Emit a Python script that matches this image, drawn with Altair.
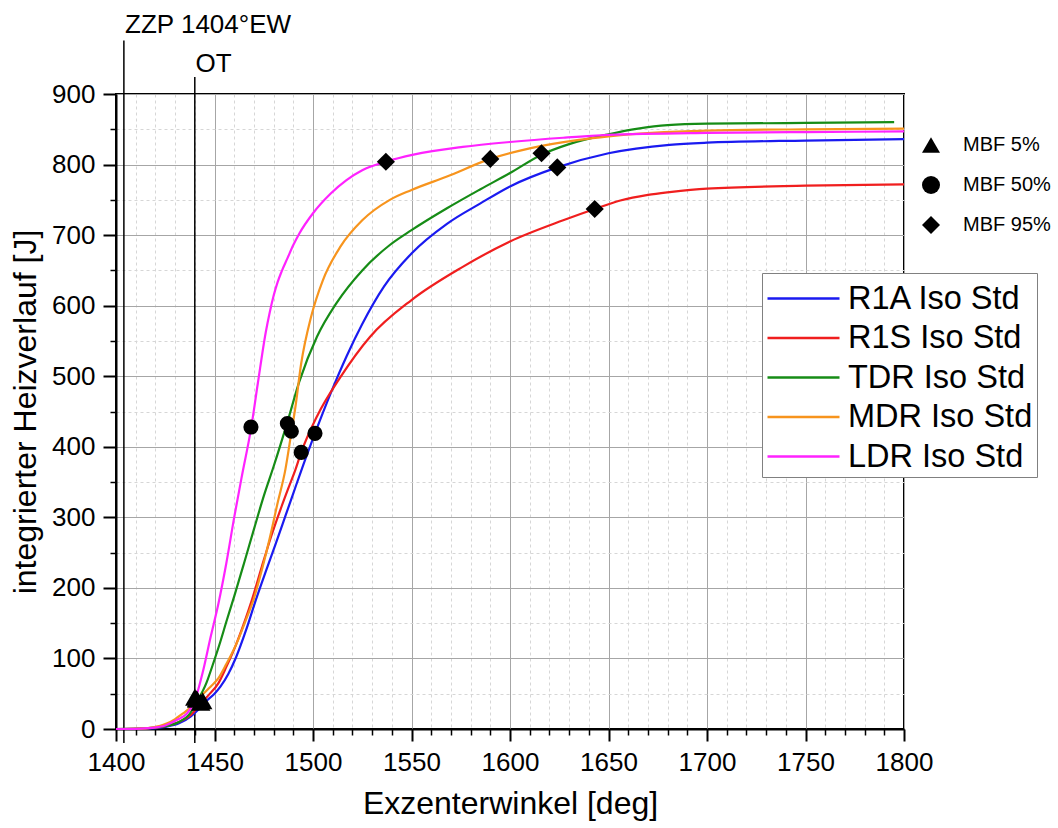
import altair as alt
import pandas as pd

FONT = "Liberation Sans"

# ---- series ----
series_names = ["R1A Iso Std", "R1S Iso Std", "TDR Iso Std", "MDR Iso Std", "LDR Iso Std"]
series_colors = ["#1a1af0", "#f01e1e", "#168c16", "#f7941d", "#ff22ff"]

r1a_deg = [1400, 1415, 1425, 1432, 1438, 1442, 1446, 1450, 1453, 1457, 1461, 1466, 1471, 1476, 1481, 1486, 1490,
           1494, 1501, 1509, 1517, 1525, 1536, 1550, 1568, 1585, 1600, 1624, 1650, 1681, 1700, 1750, 1800]
r1a_j = [0, 0.5, 3, 8, 18, 28, 40, 50, 60, 78, 102, 140, 183, 223, 262, 302, 334,
         366, 419, 476, 528, 574, 627, 674, 716, 745, 769, 796, 816, 828, 831, 834, 836]

r1s_deg = [1400, 1415, 1425, 1432, 1438, 1443, 1447, 1452, 1456, 1461, 1465, 1469, 1474, 1479, 1484, 1488,
           1491, 1494, 1502, 1514, 1529, 1550, 1576, 1600, 1627, 1643, 1656, 1670, 1681, 1700, 1750, 1800]
r1s_j = [0, 0.7, 4, 10, 20, 36, 48, 65, 88, 120, 150, 183, 230, 275, 315, 345,
         367, 392, 443, 499, 556, 608, 655, 691, 721, 737, 749, 757, 761, 766, 770, 772]

tdr_deg = [1400, 1415, 1425, 1432, 1437, 1441, 1446, 1449, 1453, 1456, 1460, 1465, 1470, 1475, 1480, 1487,
           1493, 1502, 1512, 1525, 1539, 1550, 1568, 1585, 1600, 1616, 1630, 1650, 1665, 1680, 1700, 1750, 1795]
tdr_j = [0, 1, 4, 10, 20, 38, 66, 90, 124, 152, 188, 235, 283, 330, 372, 435,
         492, 556, 604, 650, 686, 707, 738, 765, 788, 814, 829, 843, 851, 856, 858, 859, 860]

mdr_deg = [1400, 1412, 1418, 1422, 1426, 1430, 1434, 1438, 1441, 1444, 1448, 1452, 1456, 1461, 1466, 1470,
           1474, 1478, 1482, 1486, 1489, 1491, 1494, 1499, 1505, 1514, 1525, 1539, 1550, 1568, 1590, 1610,
           1635, 1650, 1700, 1750, 1800]
mdr_j = [0, 0.5, 2, 4, 8, 14, 22, 31, 40, 49, 60, 72, 92, 120, 155, 185,
         225, 270, 320, 368, 420, 455, 518, 584, 636, 684, 721, 750, 764, 783, 808, 823,
         835, 840, 848, 850, 851]

ldr_deg = [1400, 1410, 1418, 1425, 1431, 1436, 1440, 1444, 1448, 1452, 1456, 1460, 1464, 1468.5, 1472, 1476,
           1478, 1480, 1482, 1484, 1487, 1490, 1493, 1500, 1509, 1517, 1525, 1537, 1551, 1576, 1600, 1627,
           1650, 1700, 1750, 1800]
ldr_j = [0, 0.3, 1.5, 5, 13, 22, 40, 80, 130, 178, 235, 300, 360, 425, 490, 562,
         590, 614, 633, 648, 667, 686, 702, 731, 759, 778, 792, 804, 814, 825, 832, 838,
         842, 845, 846, 847]

# ---- MBF markers ----
mbf_labels = ["MBF 5%", "MBF 50%", "MBF 95%"]
mbf_shapes = ["triangle-up", "circle", "diamond"]
mbf_sizes = {"MBF 5%": 380, "MBF 50%": 230, "MBF 95%": 330}

mk_series = ["R1A Iso Std", "R1S Iso Std", "TDR Iso Std", "MDR Iso Std", "LDR Iso Std"] * 3
mk_type = ["MBF 5%"] * 5 + ["MBF 50%"] * 5 + ["MBF 95%"] * 5
mk_deg = [1444, 1443, 1441, 1441, 1440,
          1501, 1494, 1487, 1489, 1468.5,
          1624, 1643, 1616, 1590, 1537]
mk_j = [40, 38, 43, 42, 45,
        419, 392, 433, 422, 428,
        796, 737, 816, 808, 804]

# ---- annotations ----
ann_text = ["ZZP 1404°EW", "OT"]
ann_deg = [1404, 1440]
ann_top = [976, 924]
ann_bottom = [-20, -20]
ann_label_deg = [1404.6, 1440.4]
ann_label_j = [986, 931]

# ---- axes ticks ----
x_ticks = list(range(1400, 1801, 10))
y_ticks = list(range(0, 901, 50))

rows = []
for name, d, j in [(series_names[0], r1a_deg, r1a_j), (series_names[1], r1s_deg, r1s_j),
                   (series_names[2], tdr_deg, tdr_j), (series_names[3], mdr_deg, mdr_j),
                   (series_names[4], ldr_deg, ldr_j)]:
    for a, b in zip(d, j):
        rows.append({"series": name, "deg": a, "J": b})
lines_df = pd.DataFrame(rows)
markers_df = pd.DataFrame({"series": mk_series, "mbf": mk_type, "deg": mk_deg, "J": mk_j,
                           "sz": [mbf_sizes[t] for t in mk_type]})
ann_df = pd.DataFrame({"text": ann_text, "deg": ann_deg, "top": ann_top, "bottom": ann_bottom,
                       "ldeg": ann_label_deg, "lj": ann_label_j})

xscale = alt.Scale(domain=[1400, 1800], nice=False, zero=False)
yscale = alt.Scale(domain=[0, 900], nice=False, zero=False)

major_x = "datum.value % 50 === 0"
major_y = "datum.value % 100 === 0"

x_axis = alt.Axis(
    values=x_ticks, format="d",
    labelExpr="datum.value % 50 === 0 ? datum.label : ''",
    title="Exzenterwinkel [deg]", titleFont=FONT, titleFontSize=32, titleFontWeight="normal",
    titleColor="black", titlePadding=13,
    labelFont=FONT, labelFontSize=26, labelColor="black", labelPadding=8, labelFlush=False,
    labelOverlap=False,
    domainColor="black", domainWidth=2,
    tickColor="black",
    tickWidth={"condition": {"test": major_x, "value": 2}, "value": 1.5},
    tickSize={"condition": {"test": major_x, "value": 12}, "value": 6},
    grid=True,
    gridColor={"condition": {"test": major_x, "value": "#a6a6a6"}, "value": "#d6d6d6"},
    gridDash={"condition": {"test": major_x, "value": []}, "value": [3, 3]},
    gridWidth=1,
)
y_axis = alt.Axis(
    values=y_ticks, format="d",
    labelExpr="datum.value % 100 === 0 ? datum.label : ''",
    title="integrierter Heizverlauf [J]", titleFont=FONT, titleFontSize=32, titleFontWeight="normal",
    titleColor="black", titlePadding=9,
    labelFont=FONT, labelFontSize=26, labelColor="black", labelPadding=8, labelFlush=False,
    labelOverlap=False,
    domainColor="black", domainWidth=2,
    tickColor="black",
    tickWidth={"condition": {"test": major_y, "value": 2}, "value": 1.5},
    tickSize={"condition": {"test": major_y, "value": 13}, "value": 6},
    grid=True,
    gridColor={"condition": {"test": major_y, "value": "#a6a6a6"}, "value": "#d6d6d6"},
    gridDash={"condition": {"test": major_y, "value": []}, "value": [3, 3]},
    gridWidth=1,
)

lines = alt.Chart(lines_df).mark_line(strokeWidth=2.2, interpolate="monotone").encode(
    x=alt.X("deg:Q", scale=xscale, axis=x_axis),
    y=alt.Y("J:Q", scale=yscale, axis=y_axis),
    color=alt.Color("series:N", scale=alt.Scale(domain=series_names, range=series_colors),
                    legend=alt.Legend(title=None, orient="none", legendX=646, legendY=179,
                                      symbolType="M-1.8,0H1.8", symbolSize=1600,
                                      symbolStrokeWidth=2.5, symbolOffset=16,
                                      labelFont=FONT, labelFontSize=32.5, labelColor="black",
                                      labelOffset=23, labelLimit=500,
                                      strokeColor="#808080", fillColor="white",
                                      padding=4, rowPadding=1.5)),
    detail="series:N",
)

points = alt.Chart(markers_df).mark_point(filled=True, opacity=1, color="black").encode(
    x=alt.X("deg:Q", scale=xscale, axis=x_axis),
    y=alt.Y("J:Q", scale=yscale, axis=y_axis),
    shape=alt.Shape("mbf:N", scale=alt.Scale(domain=mbf_labels, range=mbf_shapes),
                    legend=alt.Legend(title=None, orient="none", legendX=805, legendY=41,
                                      symbolSize=324, symbolFillColor="black",
                                      symbolStrokeColor="black", symbolStrokeWidth=0,
                                      labelFont=FONT, labelFontSize=20, labelColor="black",
                                      labelOffset=22, rowPadding=20, padding=0)),
    size=alt.Size("sz:Q", scale=None),
)

rules = alt.Chart(ann_df).mark_rule(color="black", strokeWidth=1.5).encode(
    x=alt.X("deg:Q", scale=xscale, axis=x_axis),
    y=alt.Y("bottom:Q", scale=yscale, axis=y_axis),
    y2="top:Q",
)

labels = alt.Chart(ann_df).mark_text(align="left", baseline="alphabetic", font=FONT,
                                     fontSize=26, color="black").encode(
    x=alt.X("ldeg:Q", scale=xscale, axis=x_axis),
    y=alt.Y("lj:Q", scale=yscale, axis=y_axis),
    text="text:N",
)

chart = alt.layer(rules, lines, points, labels).properties(
    width=788, height=635,
    autosize=alt.AutoSizeParams(type="none"),
    padding={"left": 116, "top": 94, "right": 154, "bottom": 99},
    background="white",
).configure_view(stroke="black", strokeWidth=2)

chart.save("out.html", embed_options={"renderer": "svg", "actions": False})
